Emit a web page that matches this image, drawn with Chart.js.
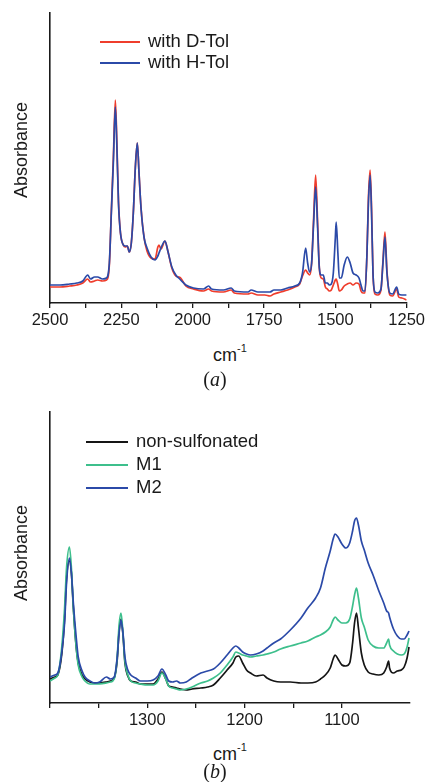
<!DOCTYPE html>
<html lang="en">
<head>
<meta charset="UTF-8">
<title>IR spectra</title>
<script src="https://cdn.jsdelivr.net/npm/chart.js"></script>
<style>
  body { margin: 0; background: #fff; font-family: "Liberation Sans", Arial, sans-serif; color: #1a1a1a; }
  #page { position: relative; width: 428px; height: 782px; overflow: hidden; }
  canvas { position: absolute; left: 0; }
  .ylab { position: absolute; font-size: 18px; line-height: 18px; white-space: nowrap;
          transform: translate(-50%, -50%) rotate(-90deg); }
  .xlab { position: absolute; font-size: 18px; line-height: 18px; white-space: nowrap; transform: translateX(-50%); }
  .xlab sup { font-size: 11px; position: relative; top: -2px; }
  .cap { position: absolute; font-family: "Liberation Serif", "Times New Roman", serif; font-size: 20px;
         line-height: 20px; transform: translateX(-50%); }
  .legend { position: absolute; font-size: 18.5px; }
  .legend .row { position: absolute; left: 0; white-space: nowrap; }
  .legend .swatch { position: absolute; left: 0; top: -1px; height: 0; border-top: 2px solid; }
  .legend .txt { position: absolute; top: -11px; line-height: 20px; }
</style>
</head>
<body>
<div id="page">
  <canvas id="chartA" width="428" height="335" style="top:0"></canvas>
  <canvas id="chartB" width="428" height="345" style="top:390px"></canvas>

  <div class="ylab" style="left:21px; top:150px">Absorbance</div>
  <div class="xlab" style="left:230px; top:341px">cm<sup>-1</sup></div>
  <div class="cap" style="left:215px; top:369px">(<i>a</i>)</div>
  <div class="legend" id="legendA" style="left:100px; top:42px"></div>

  <div class="ylab" style="left:21px; top:553px">Absorbance</div>
  <div class="xlab" style="left:230px; top:740px">cm<sup>-1</sup></div>
  <div class="cap" style="left:215px; top:761px">(<i>b</i>)</div>
  <div class="legend" id="legendB" style="left:86px; top:442px"></div>
</div>

<script>
  // Panel (a): wavenumber (cm-1) and absorbance (arbitrary units)
  const wnA = [
    2500, 2465, 2431, 2406, 2385, 2368, 2358, 2344, 2333, 2316,
    2302, 2292, 2285, 2278, 2271, 2266, 2260, 2253, 2243, 2236,
    2229, 2222, 2215, 2208, 2201, 2194, 2188, 2181, 2170, 2160,
    2146, 2132, 2122, 2118, 2111, 2097, 2087, 2073, 2059, 2049,
    2042, 2024, 1997, 1962, 1944, 1934, 1892, 1865, 1854, 1806,
    1795, 1771, 1747, 1729, 1715, 1691, 1667, 1642, 1625, 1615,
    1604, 1597, 1590, 1583, 1576, 1569, 1562, 1556, 1549, 1542,
    1535, 1528, 1521, 1514, 1507, 1500, 1497, 1491, 1486, 1479,
    1469, 1458, 1448, 1438, 1427, 1417, 1410, 1403, 1396, 1389,
    1384, 1378, 1373, 1368, 1361, 1351, 1340, 1333, 1326, 1319,
    1309, 1299, 1285, 1278, 1267, 1250
  ];
  const withHTol = [
    18, 18, 19, 20, 22, 28, 24, 26, 26, 24,
    25, 40, 90, 140, 196, 160, 100, 70, 58, 57,
    57, 51, 60, 90, 135, 160, 130, 95, 65, 55,
    46, 43, 47, 50, 55, 62, 52, 36, 28, 25,
    23, 18, 15, 14, 17, 14, 13, 15, 12, 11,
    13, 11, 11, 11, 13, 13, 15, 17, 20, 30,
    55, 40, 31, 40, 80, 116, 75, 35, 28, 28,
    20, 20, 18, 19, 30, 65, 81, 50, 25, 25,
    38, 46, 40, 30, 28, 25, 18, 12, 12, 50,
    100, 128, 90, 30, 11, 10, 14, 40, 66, 30,
    10, 9, 16, 9, 8, 8
  ];
  const withDTol = [
    16, 16, 17, 18, 20, 24, 21, 22, 23, 22,
    23, 38, 92, 145, 203, 165, 102, 70, 58, 56,
    57, 51, 60, 90, 135, 160, 130, 95, 65, 52,
    45, 44, 56, 58, 54, 62, 52, 35, 27, 26,
    25, 17, 14, 12, 14, 12, 11, 13, 10, 9,
    10, 8, 8, 7, 9, 11, 13, 16, 19, 27,
    33, 30, 28, 40, 85, 128, 80, 35, 25, 24,
    16, 14, 12, 13, 18, 23, 24, 18, 12, 13,
    17, 19, 20, 18, 20, 19, 12, 10, 10, 50,
    105, 133, 95, 30, 9, 8, 13, 42, 71, 32,
    8, 7, 14, 6, 5, 3
  ];
  const ticksA = [2500, 2250, 2000, 1750, 1500, 1250];

  // Panel (b)
  const wnB = [
    1400, 1395, 1392, 1388, 1385, 1383, 1380, 1378, 1376, 1373,
    1371, 1367, 1364, 1359, 1354, 1349, 1342, 1338, 1334, 1331,
    1329, 1327, 1325, 1323, 1320, 1317, 1312, 1307, 1300, 1294,
    1289, 1285, 1281, 1278, 1274, 1270, 1266, 1260, 1254, 1245,
    1238, 1232, 1225, 1218, 1212, 1209, 1206, 1202, 1198, 1194,
    1188, 1181, 1177, 1170, 1163, 1153, 1142, 1135, 1127, 1122,
    1117, 1112, 1109, 1107, 1104, 1100, 1096, 1092, 1089, 1087,
    1085, 1083, 1080, 1077, 1073, 1068, 1062, 1057, 1054, 1052,
    1051, 1047, 1043, 1039, 1036, 1033, 1031
  ];
  const m2 = [
    26, 28, 30, 50, 80, 120, 145, 130, 100, 65,
    46, 32, 26, 22, 20, 21, 26, 24, 26, 45,
    70, 83, 70, 46, 33, 28, 25, 22, 22, 23,
    27, 34, 28, 22, 21, 22, 20, 21, 25, 30,
    32, 34, 40, 48, 55, 57, 55, 51, 49, 48,
    49, 52, 55, 60, 64, 73, 85, 95, 105, 115,
    135, 152, 164, 169, 166, 159, 155, 160, 172, 182,
    185, 178, 162, 153, 140, 128, 112, 100, 92, 90,
    86, 74, 67, 64, 64, 68, 72
  ];
  const m1 = [
    22, 25, 28, 55, 95, 135, 156, 135, 95, 55,
    38, 26, 22, 19, 19, 19, 20, 21, 24, 45,
    78, 90, 70, 42, 28, 22, 20, 19, 18, 18,
    22, 30, 24, 17, 15, 14, 13, 14, 16, 20,
    22, 25, 30, 38, 46, 51, 50, 48, 47, 46,
    47, 48, 49, 51, 54, 57, 60, 62, 66, 68,
    71, 76, 83, 86, 83, 80, 80, 84, 97, 108,
    115, 105, 85, 76, 63, 57, 55, 55, 60, 64,
    58, 52, 49, 48, 49, 56, 65
  ];
  const nonSulfonated = [
    24, 26, 28, 48, 85, 125, 142, 130, 95, 55,
    40, 28, 24, 21, 20, 20, 21, 22, 25, 42,
    72, 84, 68, 40, 27, 22, 21, 19, 19, 19,
    24, 31, 24, 17, 16, 15, 14, 13, 14, 15,
    16, 18, 25, 33, 40, 46, 47, 40, 33, 30,
    27, 28, 25, 22, 21, 21, 20, 20, 21, 24,
    28, 35, 44, 48, 44, 38, 37, 40, 60, 80,
    90, 75, 50, 38, 31, 29, 28, 30, 36, 42,
    35, 30, 32, 33, 36, 45, 56
  ];
  const ticksB = [1300, 1200, 1100];

  const AXIS = '#1a1a1a';

  function series(xs, ys) {
    return xs.map((x, i) => ({ x: x, y: ys[i] }));
  }

  function makeChart(id, datasets, xr, step, labels, padTop, yMax) {
    return new Chart(document.getElementById(id), {
      type: 'line',
      data: { datasets: datasets },
      options: {
        responsive: false,
        animation: false,
        devicePixelRatio: 1,
        layout: { padding: { left: 0, right: 18, top: padTop, bottom: 0 } },
        elements: { point: { radius: 0 }, line: { borderWidth: 1.7, cubicInterpolationMode: 'monotone' } },
        plugins: { legend: { display: false }, tooltip: { enabled: false } },
        scales: {
          x: {
            type: 'linear',
            reverse: true,
            min: xr[0],
            max: xr[1],
            afterBuildTicks: s => { s.ticks = s.ticks.filter(t => t.value % step === 0); },
            afterFit: s => { s.height = 32; },
            ticks: {
              stepSize: step,
              autoSkip: false,
              maxRotation: 0,
              padding: 3,
              color: AXIS,
              font: { family: 'Liberation Sans', size: 16.5 },
              callback: v => labels.includes(v) ? String(v) : ''
            },
            grid: { drawOnChartArea: false, drawTicks: true, tickLength: 5, color: AXIS, lineWidth: 1.3 },
            border: { display: true, color: AXIS, width: 1.6 }
          },
          y: {
            min: 0,
            max: yMax,
            afterFit: s => { s.width = 50; },
            ticks: { display: false },
            grid: { display: false },
            border: { display: true, color: AXIS, width: 1.6 }
          }
        }
      }
    });
  }

  const dsA = [
    { label: 'with D-Tol', data: series(wnA, withDTol), borderColor: '#ef3d2c', order: 1 },
    { label: 'with H-Tol', data: series(wnA, withHTol), borderColor: '#2b4aa8', order: 0 }
  ];
  const dsB = [
    { label: 'non-sulfonated', data: series(wnB, nonSulfonated), borderColor: '#151515', order: 2 },
    { label: 'M1', data: series(wnB, m1), borderColor: '#3dbf8c', order: 1 },
    { label: 'M2', data: series(wnB, m2), borderColor: '#2b4aa8', order: 0 }
  ];

  makeChart('chartA', dsA, [1250, 2500], 125, ticksA, 13, 290);
  makeChart('chartB', dsB, [1030, 1400], 50, ticksB, 22, 291);

  // Legends: line sample + label, built from the datasets
  function buildLegend(id, datasets, gap, lineLen) {
    const box = document.getElementById(id);
    datasets.forEach((d, i) => {
      const row = document.createElement('div');
      row.className = 'row';
      row.style.top = (i * gap) + 'px';
      const sw = document.createElement('span');
      sw.className = 'swatch';
      sw.style.width = lineLen + 'px';
      sw.style.borderColor = d.borderColor;
      const tx = document.createElement('span');
      tx.className = 'txt';
      tx.style.left = (lineLen + 8) + 'px';
      tx.textContent = d.label;
      row.appendChild(sw);
      row.appendChild(tx);
      box.appendChild(row);
    });
  }
  buildLegend('legendA', dsA, 21, 40);
  buildLegend('legendB', dsB, 23, 42);
</script>
</body>
</html>
